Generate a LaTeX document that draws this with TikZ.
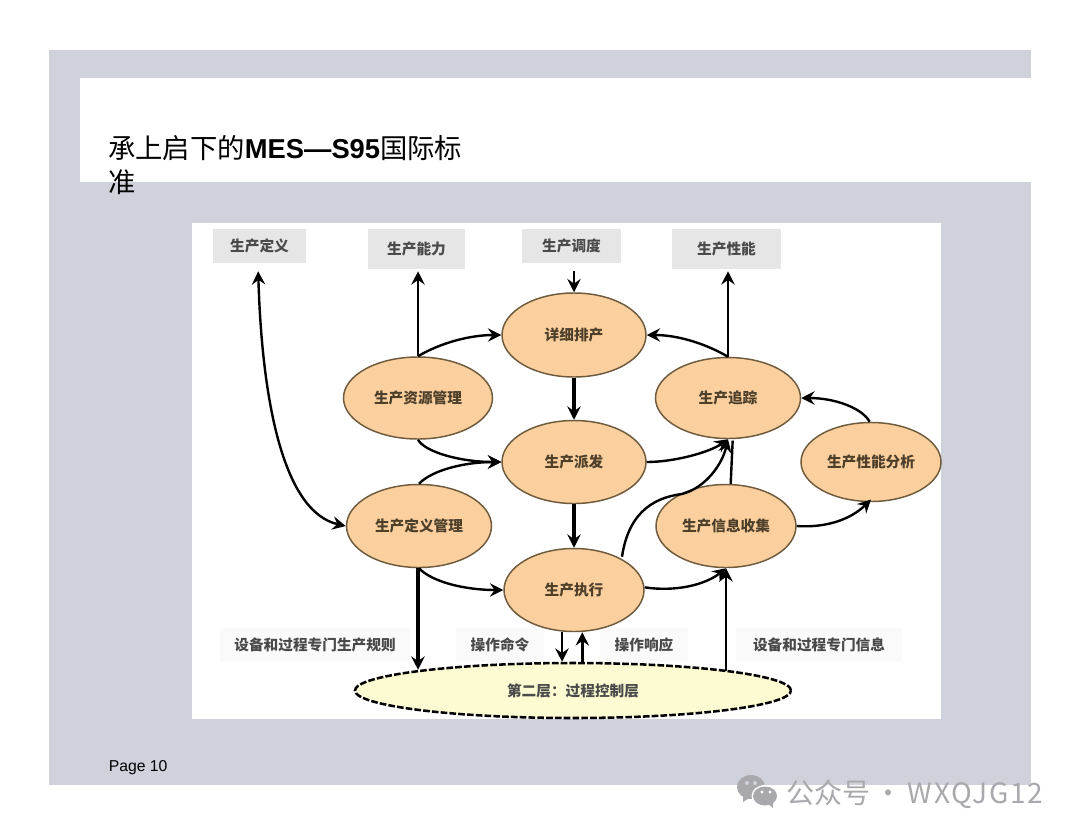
\documentclass[tikz,border=0pt]{standalone}
\usepackage{fontspec}
\setmainfont{Liberation Sans}
\newfontfamily\cjk{Noto Sans CJK SC}
\usetikzlibrary{arrows.meta,shapes.geometric,calc}
\definecolor{slate}{HTML}{CFD2DB}
\definecolor{orangefill}{HTML}{FBD09E}
\definecolor{brownline}{HTML}{6E5A3C}
\definecolor{paleyellow}{HTML}{FDFBD2}
\definecolor{tagfill}{HTML}{E6E6E6}
\definecolor{tagtext}{HTML}{4A4A4A}
\definecolor{bandfill}{HTML}{FAFAFA}
\definecolor{markgrey}{HTML}{A9A9AD}
\tikzset{
  proc/.style={ellipse,draw=brownline,line width=1.1pt,fill=orangefill,inner sep=0pt,
    font=\cjk\fontsize{11pt}{12pt}\selectfont\bfseries,text=brownline!70!black},
  tag/.style={rectangle,fill=tagfill,inner sep=0pt,
    font=\cjk\fontsize{11pt}{12pt}\selectfont\bfseries,text=tagtext},
  band/.style={rectangle,fill=bandfill,inner sep=0pt,
    font=\cjk\fontsize{11pt}{12pt}\selectfont\bfseries,text=tagtext},
  link/.style={line width=1.8pt,black,-{Stealth[length=10pt,width=10pt,inset=3.5pt]}},
  thicklink/.style={link,line width=2.6pt},
  twolink/.style={line width=1.8pt,black,{Stealth[length=10pt,width=10pt,inset=3.5pt]}-{Stealth[length=10pt,width=10pt,inset=3.5pt]}},
  plain/.style={line width=1.8pt,black}
}
\begin{document}
\begin{tikzpicture}[x=0.75pt,y=-0.75pt]
\useasboundingbox (0,0) rectangle (1080,835);
\fill[white] (0,0) rectangle (1080,835);
\fill[slate] (49,50) rectangle (1031,785);
\fill[white] (80,78) rectangle (1031,182);
\fill[white] (192,223) rectangle (941,719);

\node[anchor=base west,inner sep=0pt,font=\fontsize{20.5pt}{24pt}\selectfont] (title1) at (108,158)
  {{\cjk 承上启下的}\textbf{MES—S95}{\cjk 国际标}};
\node[anchor=base west,inner sep=0pt,font=\cjk\fontsize{20.5pt}{24pt}\selectfont] (title2) at (108,192) {准};
\node[anchor=base west,inner sep=0pt,font=\fontsize{11.8pt}{13pt}\selectfont] (page) at (108.5,771) {Page 10};

% tags
\node[tag,minimum width=69.75pt,minimum height=25.5pt] (tdef) at (259.5,246) {\raisebox{1.5pt}{生产定义}};
\node[tag,minimum width=72.75pt,minimum height=30pt] (tcap) at (416.5,249) {生产能力};
\node[tag,minimum width=74.25pt,minimum height=25.5pt] (tsch) at (571.5,246) {\raisebox{1.5pt}{生产调度}};
\node[tag,minimum width=81.75pt,minimum height=30pt] (tper) at (726.5,249) {生产性能};

% band labels
\node[band,minimum width=142.5pt,minimum height=25.5pt] (lrule) at (315,645) {设备和过程专门生产规则};
\node[band,minimum width=66pt,minimum height=25.5pt] (lcmd) at (500,645) {操作命令};
\node[band,minimum width=66pt,minimum height=25.5pt] (lresp) at (644,645) {操作响应};
\node[band,minimum width=124pt,minimum height=25.5pt] (linfo) at (819,645) {设备和过程专门信息};

% dashed ellipse
\node[ellipse,draw=black,dash pattern=on 5pt off 1.6pt,line width=1.9pt,fill=paleyellow,inner sep=0pt,
  minimum width=327pt,minimum height=41.25pt,
  font=\cjk\fontsize{11pt}{12pt}\selectfont\bfseries,text=tagtext] (ctrl) at (573,690.5) {第二层：过程控制层};

% process ellipses
\node[proc,minimum width=108pt,minimum height=63pt] (sch) at (574,335) {详细排产};
\node[proc,minimum width=111.75pt,minimum height=61.5pt] (res) at (418,398) {生产资源管理};
\node[proc,minimum width=108.75pt,minimum height=60.75pt] (trk) at (728,398) {生产追踪};
\node[proc,minimum width=108pt,minimum height=62.25pt] (dsp) at (574,462) {生产派发};
\node[proc,minimum width=105pt,minimum height=59.25pt] (ana) at (871,462) {生产性能分析};
\node[proc,minimum width=108.75pt,minimum height=62.25pt] (dfn) at (419,526) {生产定义管理};
\node[proc,minimum width=105pt,minimum height=62.25pt] (col) at (726,526) {生产信息收集};
\node[proc,minimum width=105pt,minimum height=62.25pt] (exe) at (574,590) {生产执行};

% connectors
\draw[twolink] ([xshift=-1pt,yshift=-6pt]tdef.south) .. controls (262,400) and (283,512) .. (dfn.west);
\draw[link,shorten >=1.5pt] (res.north) -- (res.north |- tcap.south);
\draw[link] (res.north) .. controls (440,343) and (470,335) .. (sch.west);
\draw[link] (res.south) .. controls (425,452) and (460,462) .. (dsp.west);
\draw[link] (dfn.north) .. controls (432,470) and (465,462) .. (dsp.west);
\draw[link] (dfn.south) .. controls (432,582) and (465,590) .. (exe.west);
\draw[thicklink] ([xshift=-0.75pt]dfn.south) -- ([xshift=-0.75pt,yshift=-6pt]dfn.south |- ctrl.north);
\draw[link,shorten <=6pt] (tsch.south -| sch.north) -- (sch.north);
\draw[thicklink] (sch.south) -- (dsp.north);
\draw[thicklink] (dsp.south) -- (exe.north);
\draw[link,shorten >=1.5pt] (trk.north) -- (trk.north |- tper.south);
\draw[link] (trk.north) .. controls (708,345) and (680,335) .. (sch.east);
\draw[link] ([xshift=-1pt]ana.north) .. controls (862,408) and (835,398) .. (trk.east);
\draw[link] (dsp.east) .. controls (675,462) and (710,452) .. (trk.south);
\draw[plain] ([xshift=3.5pt]col.north) -- ([xshift=3.5pt,yshift=-1pt]trk.south);
\draw[link] ([xshift=36pt,yshift=-6.75pt]exe.north) .. controls (628,516) and (650,498) .. (682,494) .. controls (705,488) and (722,465) .. (trk.south);
\draw[link] ([yshift=2pt]exe.east) .. controls (675,592) and (705,585) .. (col.south);
\draw[link] (col.east) .. controls (825,528) and (850,520) .. ([yshift=2pt]ana.south);
\draw[link] ([xshift=-9pt]exe.south) -- ([xshift=-9pt]exe.south |- ctrl.north);
\draw[link] ([xshift=7pt]ctrl.north) -- ([xshift=7pt]ctrl.north |- exe.south);
\draw[link] ([xshift=114.75pt,yshift=-6.75pt]ctrl.north) -- (col.south);

% watermark
\fill[markgrey] (751,787) ellipse [x radius=14,y radius=12];
\fill[markgrey] (743,795) -- (743,802) -- (751,797) -- cycle;
\fill[white] (765,796) ellipse [x radius=13.5,y radius=11];
\fill[markgrey] (765,796) ellipse [x radius=12,y radius=9.5];
\fill[markgrey] (767,803) -- (773,808) -- (773,801) -- cycle;
\fill[slate] (747,783) circle (2);
\fill[slate] (755,783) circle (2);
\fill[white] (762,792) circle (1.6);
\fill[white] (770,792) circle (1.6);
\node[anchor=base west,inner sep=0pt,text=markgrey,font=\cjk\fontsize{21pt}{24pt}\selectfont] (mark) at (786,803) {公众号\,·\,{\addfontfeature{LetterSpace=6.5}WXQJG12}};
\end{tikzpicture}
\end{document}
